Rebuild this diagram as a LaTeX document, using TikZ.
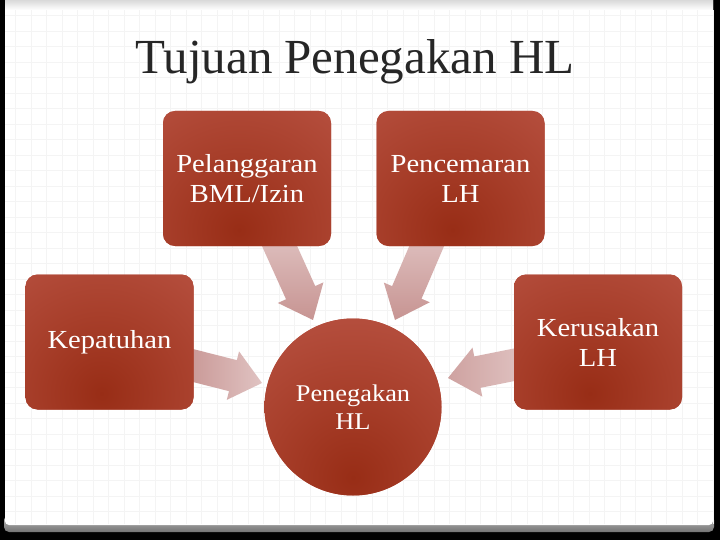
\documentclass[tikz,border=0pt]{standalone}
\usepackage{fontspec}
\setmainfont{Liberation Serif}
\newfontfamily\boxfont[FakeStretch=1.1]{Liberation Serif}
\usetikzlibrary{calc,shapes.geometric}
\definecolor{brick}{HTML}{B85242}
\definecolor{brickmid}{HTML}{A83F2B}
\definecolor{brickdark}{HTML}{982D16}
\definecolor{arrowlight}{HTML}{E0C3C2}
\definecolor{arrowdark}{HTML}{C79492}
\definecolor{gridc}{HTML}{F4F4F4}
\pgfdeclareradialshading{spot}{\pgfpoint{0bp}{0bp}}{color(0bp)=(brickdark); color(10bp)=(brickmid); color(21bp)=(brick); color(50bp)=(brick)}
\pgfdeclarelayer{back}
\pgfdeclarelayer{mid}
\pgfsetlayers{back,mid,main}
\newcommand{\blockarr}[3]{%
  \coordinate (ab) at ($(#2)!30pt!(#1)$);
  \shade[#3] ($(#1)!16pt!90:(#2)$) -- ($(ab)!16pt!90:(#2)$) -- ($(ab)!25pt!90:(#2)$)
    -- (#2) -- ($(ab)!25pt!-90:(#2)$) -- ($(ab)!16pt!-90:(#2)$) -- ($(#1)!16pt!-90:(#2)$) -- cycle;
}
\tikzset{
  box/.style={rounded corners=12pt, fill=brick, minimum width=168pt, minimum height=135pt,
    text=white, align=center, inner sep=0pt, font=\boxfont\fontsize{26}{30}\selectfont,
    path picture={\shade[shading=spot]
      ($(path picture bounding box.south)+(-8,-16)$) circle (200pt);}},
  circ/.style={circle, fill=brick, minimum size=177pt, text=white, align=center, inner sep=0pt,
    font=\boxfont\fontsize{24}{28}\selectfont,
    path picture={\shade[shading=spot]
      ($(path picture bounding box.south)+(0,-18)$) circle (215pt);}},
  titletext/.style={font=\fontsize{49}{54}\selectfont, text=black!85},
}
\begin{document}
\begin{tikzpicture}[x=1pt,y=-1pt]
\useasboundingbox (0,0) rectangle (720,540);
\begin{pgfonlayer}{back}
  \fill[black] (0,0) rectangle (720,540);
  \shade[top color=black!25, bottom color=black!55, rounded corners=5pt] (4,515) rectangle (714,532);
  \fill[white, rounded corners=4pt] (5,-10) rectangle (713,525);
  \shade[top color=black!15, bottom color=white] (5,0) rectangle (713,10);
  \draw[gridc, line width=0.5pt, step=15.5pt] (5,10) grid (713,524);
\end{pgfonlayer}

\node[titletext] (title) at (355,62) {Tujuan Penegakan HL};

\node[box] (pel) at (247,178.5) {Pelanggaran\\BML/Izin};
\node[box] (pen) at (460.5,178.5) {Pencemaran\\LH};
\node[box] (kep) at (109.5,342) {Kepatuhan};
\node[box] (ker) at (598,342) {Kerusakan\\LH};
\node[circ] (peg) at (353,407) {Penegakan\\HL};

\coordinate (s1) at (275,236);
\coordinate (t1) at (313,320);
\coordinate (s2) at (431,236);
\coordinate (t2) at (395,320);
\coordinate (s3) at (185,363.5);
\coordinate (t3) at (262,383);
\coordinate (s4) at (523,363);
\coordinate (t4) at (448,378);

\begin{pgfonlayer}{mid}
  \blockarr{s1}{t1}{top color=arrowlight, bottom color=arrowdark}
  \blockarr{s2}{t2}{top color=arrowlight, bottom color=arrowdark}
  \blockarr{s3}{t3}{left color=arrowdark, right color=arrowlight}
  \blockarr{s4}{t4}{left color=arrowdark!70!arrowlight, right color=arrowlight}
\end{pgfonlayer}
\end{tikzpicture}
\end{document}
